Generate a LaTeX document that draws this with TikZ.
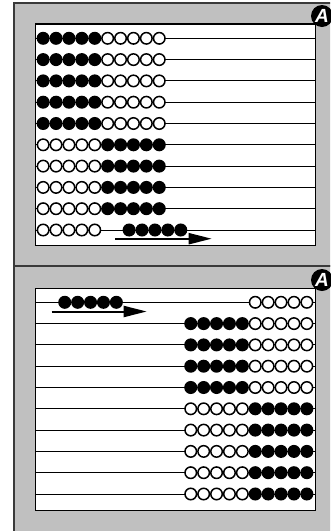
\documentclass[tikz,border=0pt]{standalone}
\usepackage{fontspec}
\newfontfamily\badgefont{Liberation Sans}
\usetikzlibrary{arrows.meta}
\definecolor{panelgray}{HTML}{C0C0C0}
\definecolor{edgegray}{HTML}{3A3A3A}
\tikzset{
  panel/.style={fill=panelgray, draw=edgegray, line width=1.5pt},
  board/.style={fill=white, draw=black, line width=1.5pt},
  wire/.style={draw=black, line width=0.9pt},
  wbead/.style={fill=white, draw=black, line width=1.5pt},
  bbead/.style={fill=black, draw=black, line width=1.5pt},
  movearrow/.style={line width=2pt, -{Triangle[length=23pt, width=11pt]}},
  badge/.style={circle, fill=black, minimum size=22pt, inner sep=0pt, text=white,
    font=\badgefont\bfseries\itshape\fontsize{19}{19}\selectfont},
}
\begin{document}
\begin{tikzpicture}[x=1pt,y=-1pt]
\useasboundingbox (0,0) rectangle (330,531);
\begin{scope}
  \clip (0,0) rectangle (330,531);
  \draw[panel] (14,3) rectangle (340,266);
  \draw[panel] (14,266) rectangle (340,540);
\end{scope}
% ---------- top board ----------
\draw[board] (35.7,24) rectangle (315.7,245.7);
\foreach \i in {0,...,9} {
  \draw[wire] (35.7,{38.3+21.3*\i}) -- (315.7,{38.3+21.3*\i});
}
\foreach \i in {0,...,4} {
  \foreach \k in {0,...,4}
    \draw[bbead] ({43.15+12.9*\k},{38.3+21.3*\i}) circle[radius=5.75];
  \foreach \k in {5,...,9}
    \draw[wbead] ({43.15+12.9*\k},{38.3+21.3*\i}) circle[radius=5.75];
}
\foreach \i in {5,...,8} {
  \foreach \k in {0,...,4}
    \draw[wbead] ({43.15+12.9*\k},{38.3+21.3*\i}) circle[radius=5.75];
  \foreach \k in {5,...,9}
    \draw[bbead] ({43.15+12.9*\k},{38.3+21.3*\i}) circle[radius=5.75];
}
\foreach \k in {0,...,4}
  \draw[wbead] ({43.15+12.9*\k},230) circle[radius=5.75];
\foreach \k in {0,...,4}
  \draw[bbead] ({129.15+12.9*\k},230) circle[radius=5.75];
\coordinate (arrAstart) at (115,238.7);
\coordinate (arrAend) at (211.7,238.7);
\draw[movearrow] (arrAstart) -- (arrAend);
\node[badge] (badgeA1) at (322,16) {A};
% ---------- bottom board ----------
\draw[board] (35.7,288.3) rectangle (315.7,510.3);
\foreach \i in {0,...,9} {
  \draw[wire] (35.7,{302.3+21.3*\i}) -- (315.7,{302.3+21.3*\i});
}
\foreach \k in {5,...,9}
  \draw[wbead] ({190.75+12.9*\k},302.3) circle[radius=5.75];
\foreach \k in {0,...,4}
  \draw[bbead] ({64.75+12.9*\k},302.3) circle[radius=5.75];
\foreach \i in {1,...,4} {
  \foreach \k in {0,...,4}
    \draw[bbead] ({190.75+12.9*\k},{302.3+21.3*\i}) circle[radius=5.75];
  \foreach \k in {5,...,9}
    \draw[wbead] ({190.75+12.9*\k},{302.3+21.3*\i}) circle[radius=5.75];
}
\foreach \i in {5,...,9} {
  \foreach \k in {0,...,4}
    \draw[wbead] ({190.75+12.9*\k},{302.3+21.3*\i}) circle[radius=5.75];
  \foreach \k in {5,...,9}
    \draw[bbead] ({190.75+12.9*\k},{302.3+21.3*\i}) circle[radius=5.75];
}
\coordinate (arrBstart) at (51.7,311.5);
\coordinate (arrBend) at (146.7,311.5);
\draw[movearrow] (arrBstart) -- (arrBend);
\node[badge] (badgeA2) at (322,280) {A};
\end{tikzpicture}
\end{document}
